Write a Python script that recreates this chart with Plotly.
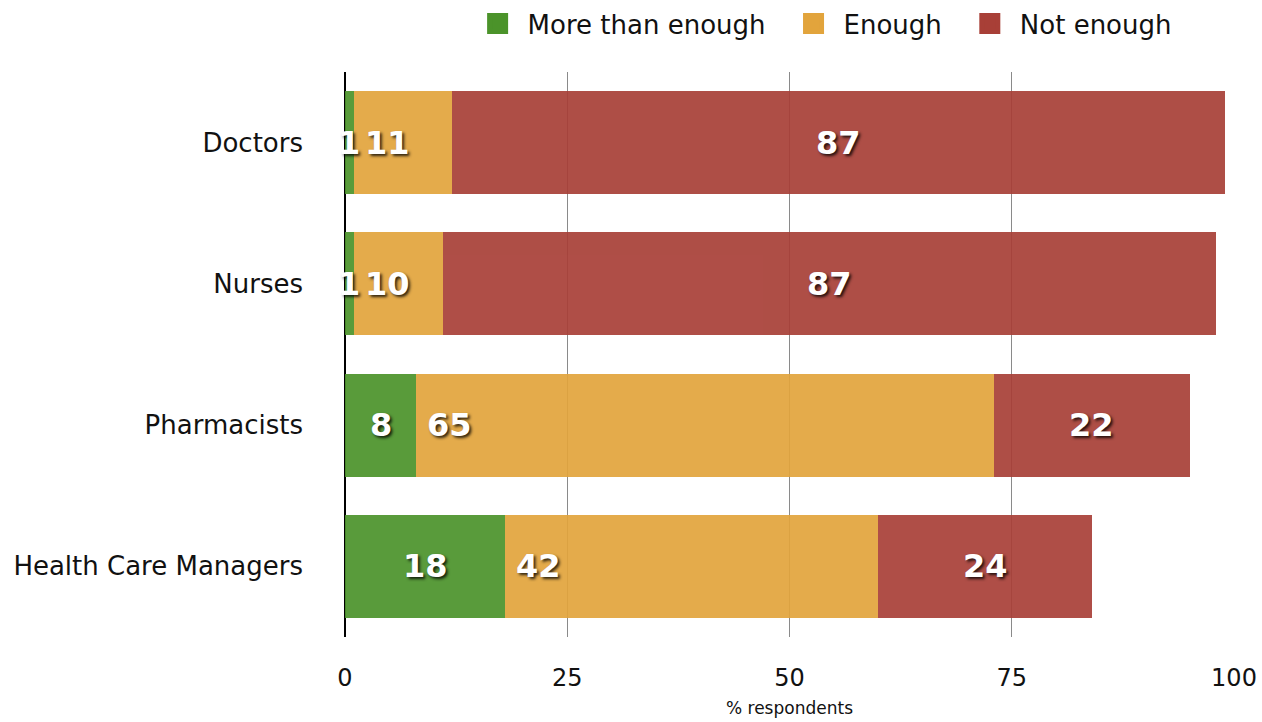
import plotly.graph_objects as go

categories = ["Doctors", "Nurses", "Pharmacists", "Health Care Managers"]
more_than_enough = [1, 1, 8, 18]
enough = [11, 10, 65, 42]
not_enough = [87, 87, 22, 24]
x_ticks = [0, 25, 50, 75, 100]

series = [
    ("More than enough", more_than_enough, "#4b932a"),
    ("Enough", enough, "#e2a43c"),
    ("Not enough", not_enough, "#a83f37"),
]

fig = go.Figure()
for name, vals, col in series:
    fig.add_trace(go.Bar(
        y=categories, x=vals, name=name, orientation="h",
        marker=dict(color=col, line=dict(width=0)), opacity=0.92,
        width=0.73, hoverinfo="x+name", showlegend=False,
    ))
# legend entries with large square swatches
for name, vals, col in series:
    fig.add_trace(go.Scatter(
        x=[None], y=[None], mode="markers", name=name + "\u2002",
        marker=dict(symbol="square", size=16, color=col,
                    line=dict(color=col, width=5)),
    ))

lab_font = dict(family="DejaVu Sans", size=32, color="white", weight="bold",
                shadow="2px 2px 3px rgba(0,0,0,0.8)")
annotations = []
for i, cat in enumerate(categories):
    m, e, n = more_than_enough[i], enough[i], not_enough[i]
    annotations.append(dict(x=m / 2, y=cat, text=str(m), showarrow=False,
                            xanchor="center", font=lab_font))
    annotations.append(dict(x=m, y=cat, text=str(e), showarrow=False,
                            xanchor="left", xshift=9, font=lab_font))
    annotations.append(dict(x=m + e + n / 2, y=cat, text=str(n), showarrow=False,
                            xanchor="center", font=lab_font))

fig.update_layout(
    barmode="stack",
    width=1262, height=722,
    margin=dict(l=345, r=28, t=72, b=85, autoexpand=False),
    paper_bgcolor="white", plot_bgcolor="white",
    font=dict(family="DejaVu Sans", color="#111"),
    bargap=0.27,
    showlegend=True,
    legend=dict(orientation="h", x=0.544, xanchor="center", y=1.0, yanchor="top",
                yref="container", font=dict(size=26), traceorder="normal",
                itemwidth=50),
    xaxis=dict(range=[0, 100], tickvals=x_ticks, ticktext=[str(t) for t in x_ticks],
               showgrid=True, gridcolor="#8a8a8a", gridwidth=1, automargin=False,
               zeroline=True, zerolinecolor="black", zerolinewidth=2,
               tickfont=dict(size=24), ticks="", ticklabelstandoff=24,
               title=dict(text="% respondents", font=dict(size=17), standoff=11)),
    yaxis=dict(categoryorder="array", categoryarray=categories, autorange="reversed",
               tickfont=dict(size=26), ticks="", ticklabelstandoff=41, automargin=False,
               showline=False, showgrid=False, zeroline=False),
    annotations=annotations,
)
fig.write_html("out.html", config={"displayModeBar": False},
               post_script="document.body.style.margin='0';")
